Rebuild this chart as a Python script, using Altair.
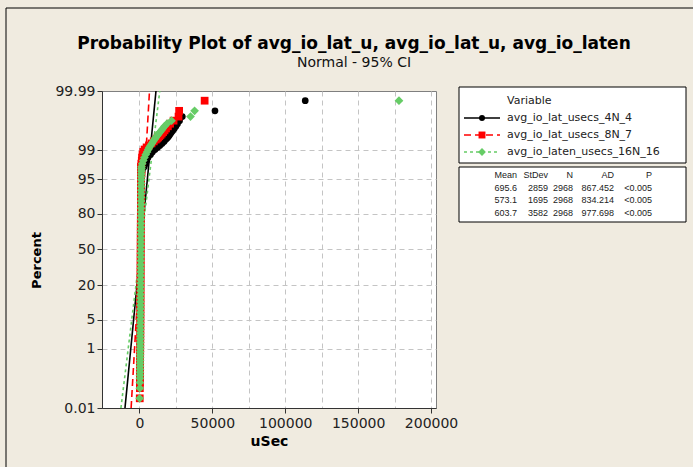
import altair as alt
import pandas as pd
from statistics import NormalDist

# ---------------- data ----------------
series = ["avg_io_lat_usecs_4N_4", "avg_io_lat_usecs_8N_7", "avg_io_laten_usecs_16N_16"]
colors = ["#000000", "#FF0000", "#66CC66"]
means = [695.6, 573.1, 603.7]
stdevs = [2859, 1695, 3582]
counts = [2968, 2968, 2968]
ad_stats = [867.452, 834.214, 977.698]
p_values = ["<0.005", "<0.005", "<0.005"]

title_text = "Probability Plot of avg_io_lat_u, avg_io_lat_u, avg_io_laten"
subtitle_text = "Normal - 95% CI"

# bulk of each sample (percent plotting positions, shared)
band_pct = [0.024, 0.057, 0.091, 0.125, 0.16, 0.2, 0.25, 0.31, 0.38, 0.46,
            0.56, 0.68, 0.82, 1.0, 1.2, 1.45, 1.75, 2.1, 2.5, 3.0,
            3.6, 4.3, 5.1, 6.0, 7.0, 8.2, 9.5, 11, 12.7, 14.6,
            16.7, 19, 21.5, 24, 27, 30, 33, 36, 39.5, 43,
            46.5, 50, 53.5, 57, 60.5, 64, 67, 70, 73, 76,
            78.5, 81, 83.3, 85.4, 87.3, 89, 90.5, 91.8, 93, 94,
            94.9, 95.6, 96.2, 96.7, 97.1]
black_band = [180, 250, 300, 340, 365, 385, 400, 415, 430, 445,
              458, 471, 484, 497, 510, 523, 536, 549, 562, 575,
              588, 601, 614, 627, 640, 653, 666, 679, 692, 705,
              718, 731, 744, 757, 770, 783, 796, 809, 822, 835,
              848, 861, 874, 887, 900, 913, 926, 939, 952, 965,
              978, 991, 1004, 1017, 1030, 1045, 1060, 1080, 1110, 1150,
              1200, 1300, 1450, 1700, 2100]
red_band = [200, 270, 320, 350, 370, 390, 405, 420, 435, 450,
            462, 474, 486, 498, 510, 522, 534, 546, 558, 570,
            582, 594, 606, 618, 630, 642, 654, 666, 678, 690,
            702, 714, 726, 738, 750, 762, 774, 786, 798, 810,
            822, 834, 846, 858, 870, 882, 894, 906, 918, 930,
            942, 954, 966, 978, 990, 1000, 1010, 1020, 1030, 1040,
            1055, 1070, 1090, 1110, 1140]
green_band = [150, 230, 290, 330, 360, 380, 400, 420, 440, 455,
              470, 485, 500, 515, 530, 545, 560, 575, 590, 605,
              620, 635, 650, 665, 680, 695, 710, 725, 740, 755,
              770, 785, 800, 815, 830, 845, 860, 875, 890, 905,
              920, 935, 950, 965, 980, 995, 1010, 1025, 1040, 1055,
              1070, 1085, 1100, 1115, 1130, 1145, 1160, 1180, 1200, 1220,
              1240, 1265, 1290, 1320, 1360]

# upper tails (percent plotting positions, shared)
tail_pct = [97.4, 97.8, 98.15, 98.45, 98.7, 98.9, 99.05, 99.17, 99.27, 99.36,
            99.44, 99.505, 99.539, 99.572, 99.606, 99.64, 99.673, 99.707, 99.74, 99.774,
            99.808, 99.842, 99.875, 99.909, 99.943, 99.976]
black_tail = [3300, 4100, 5000, 5900, 7600, 8900, 10700, 12400, 14000, 15500,
              16900, 17900, 18600, 19300, 20000, 20600, 21300, 22000, 22900, 23900,
              25000, 26100, 27500, 29400, 51800, 113700]
red_tail = [1000, 1300, 1600, 1800, 2100, 2600, 3500, 4900, 6500, 8300,
            9800, 11200, 12000, 12800, 13600, 14400, 15300, 16200, 17200, 18200,
            19500, 21000, 23400, 26800, 27200, 44700]
green_tail = [1400, 1900, 2600, 3400, 4300, 5200, 6000, 6700, 7600, 8500,
              9400, 10200, 10700, 11200, 11800, 12500, 13300, 14100, 15000, 16000,
              17200, 18900, 22000, 35000, 37800, 178000]

y_tick_pct = [0.01, 1, 5, 20, 50, 80, 95, 99, 99.99]
y_tick_labels = ["0.01", "1", "5", "20", "50", "80", "95", "99", "99.99"]
x_ticks = [0, 25000, 50000, 75000, 100000, 125000, 150000, 175000, 200000]
x_domain = [-25700, 203400]

# ---------------- tables for the library ----------------
nd = NormalDist()


def probit(p):
    return nd.inv_cdf(p / 100.0)


band_vals = [black_band, red_band, green_band]
tail_vals = [black_tail, red_tail, green_tail]
rows = []
for s, bv, tv in zip(series, band_vals, tail_vals):
    for p, v in zip(band_pct + tail_pct, bv + tv):
        rows.append({"Variable": s, "pct": p, "z": probit(p), "value": v})
pts = pd.DataFrame(rows)

z_lo, z_hi = probit(y_tick_pct[0]), probit(y_tick_pct[-1])
fit_rows = []
for s, m, sd in zip(series, means, stdevs):
    for z in (z_lo, z_hi):
        fit_rows.append({"Variable": s, "z": z, "value": m + sd * z})
fit = pd.DataFrame(fit_rows)

y_tick_z = [probit(p) for p in y_tick_pct]
label_expr = "".join(
    f"abs(datum.value - ({z:.6f})) < 0.0001 ? '{lab}' : " for z, lab in zip(y_tick_z, y_tick_labels)
) + "''"

FONT = "DejaVu Sans"

x_enc = alt.X(
    "value:Q",
    scale=alt.Scale(domain=x_domain, nice=False, zero=False),
    axis=alt.Axis(
        values=x_ticks,
        labelExpr="datum.value % 50000 === 0 ? '' + datum.value : ''",
        tickOpacity={"condition": {"test": "datum.value % 50000 === 0", "value": 1}, "value": 0},
        title="uSec",
        titleFont=FONT, titleFontSize=14, titleFontWeight="bold", titlePadding=4,
        labelFont=FONT, labelFontSize=14, labelColor="#222222", labelPadding=3,
        labelFlush=False, labelOverlap=False,
        grid=True, gridDash=[5, 4], gridColor="#C4C4C4",
        tickSize=5, tickColor="#333333", domainColor="#333333",
    ),
)
y_enc = alt.Y(
    "z:Q",
    scale=alt.Scale(domain=[z_lo, z_hi], nice=False, zero=False),
    axis=alt.Axis(
        values=y_tick_z,
        labelExpr=label_expr,
        title="Percent",
        titleFont=FONT, titleFontSize=13, titleFontWeight="bold",
        titleAngle=270, titleAlign="center", titleBaseline="middle",
        titleX=-66, titleY=169,
        labelFont=FONT, labelFontSize=14, labelColor="#222222", labelPadding=2,
        labelFlush=False, labelOverlap=False,
        grid=True, gridDash=[5, 4], gridColor="#C4C4C4",
        gridOpacity={"condition": {"test": "abs(datum.value) > 3.7", "value": 0}, "value": 1},
        tickSize=5, tickColor="#333333", domainColor="#333333",
    ),
)

color_scale = alt.Scale(domain=series, range=colors)
dash_scale = alt.Scale(domain=series, range=[[1, 0], [7, 4], [3, 3]])

fit_layer = alt.Chart(fit).mark_line(strokeWidth=1.6, clip=True).encode(
    x=x_enc, y=y_enc,
    color=alt.Color("Variable:N", scale=color_scale, legend=None),
    strokeDash=alt.StrokeDash("Variable:N", scale=dash_scale, legend=None),
    detail="Variable:N",
)

shapes = ["circle", "square", "diamond"]
sizes = [45, 60, 76]
point_layers = []
for s, c, sh, sz in zip(series, colors, shapes, sizes):
    point_layers.append(
        alt.Chart(pts[pts["Variable"] == s]).mark_point(
            shape=sh, filled=True, size=sz, color=c, opacity=1, strokeWidth=0, clip=True
        ).encode(x=x_enc, y=y_enc)
    )

one = pd.DataFrame({"k": [0]})
extra = []

# ---------------- title and subtitle ----------------
extra.append(
    alt.Chart(one).mark_text(align="center", baseline="alphabetic", font=FONT, fontSize=17,
                             fontWeight="bold", color="#000000").encode(
        x=alt.value(252), y=alt.value(-42), text=alt.value(title_text)))
extra.append(
    alt.Chart(one).mark_text(align="center", baseline="alphabetic", font=FONT, fontSize=14,
                             color="#111111").encode(
        x=alt.value(252), y=alt.value(-24), text=alt.value(subtitle_text)))

# ---------------- legend ("Variable") ----------------
LX0, LX1 = 357, 584
extra += [
    alt.Chart(one).mark_rect(fill="white", stroke="#000000", strokeWidth=1).encode(
        x=alt.value(LX0), x2=alt.value(LX1), y=alt.value(-4), y2=alt.value(72)),
    alt.Chart(one).mark_text(align="left", baseline="middle", font=FONT, fontSize=11, color="#222222").encode(
        x=alt.value(405), y=alt.value(10), text=alt.value("Variable")),
]
row_y = [27, 44, 61]
dashes = [[1, 0], [7, 4], [3, 3]]
for s, c, sh, sz, yy, d in zip(series, colors, shapes, sizes, row_y, dashes):
    extra.append(
        alt.Chart(one).mark_rule(color=c, strokeWidth=1.3, strokeDash=d).encode(
            x=alt.value(362), x2=alt.value(398), y=alt.value(yy)))
    extra.append(
        alt.Chart(one).mark_point(shape=sh, filled=True, size=sz * 0.8, color=c, opacity=1, strokeWidth=0).encode(
            x=alt.value(380), y=alt.value(yy)))
    extra.append(
        alt.Chart(one).mark_text(align="left", baseline="middle", font=FONT, fontSize=11, color="#222222").encode(
            x=alt.value(405), y=alt.value(yy), text=alt.value(s)))

# ---------------- statistics table ----------------
extra.append(
    alt.Chart(one).mark_rect(fill="white", stroke="#000000", strokeWidth=1).encode(
        x=alt.value(LX0), x2=alt.value(LX1), y=alt.value(76), y2=alt.value(131)))
columns = [
    ("Mean", [f"{m}" for m in means], 415),
    ("StDev", [f"{s}" for s in stdevs], 446),
    ("N", [f"{n}" for n in counts], 471),
    ("AD", [f"{a:.3f}" for a in ad_stats], 512),
    ("P", p_values, 550),
]
for head, vals, xr in columns:
    extra.append(
        alt.Chart(one).mark_text(align="right", baseline="top", lineBreak="\n", lineHeight=12.7,
                                 font="Liberation Sans", fontSize=9, color="#222222").encode(
            x=alt.value(xr), y=alt.value(80), text=alt.value("\n".join([head] + vals))))

# outer frame lines (top and left edges of the graph window)
extra.append(
    alt.Chart(one).mark_rule(color="#000000", strokeWidth=1).encode(
        x=alt.value(-96), y=alt.value(-83), y2=alt.value(376)))
extra.append(
    alt.Chart(one).mark_rule(color="#000000", strokeWidth=1).encode(
        x=alt.value(-96), x2=alt.value(591), y=alt.value(-83)))

chart = alt.layer(fit_layer, *point_layers, *extra).properties(
    width=334,
    height=317,
    padding={"left": 102, "top": 91, "right": 257, "bottom": 59},
    autosize=alt.AutoSizeParams(type="none"),
).configure(background="#F0EBE0").configure_view(fill="white", stroke="#7F7F7F", strokeWidth=1)

chart.save("out.html", embed_options={"renderer": "svg", "actions": False})
